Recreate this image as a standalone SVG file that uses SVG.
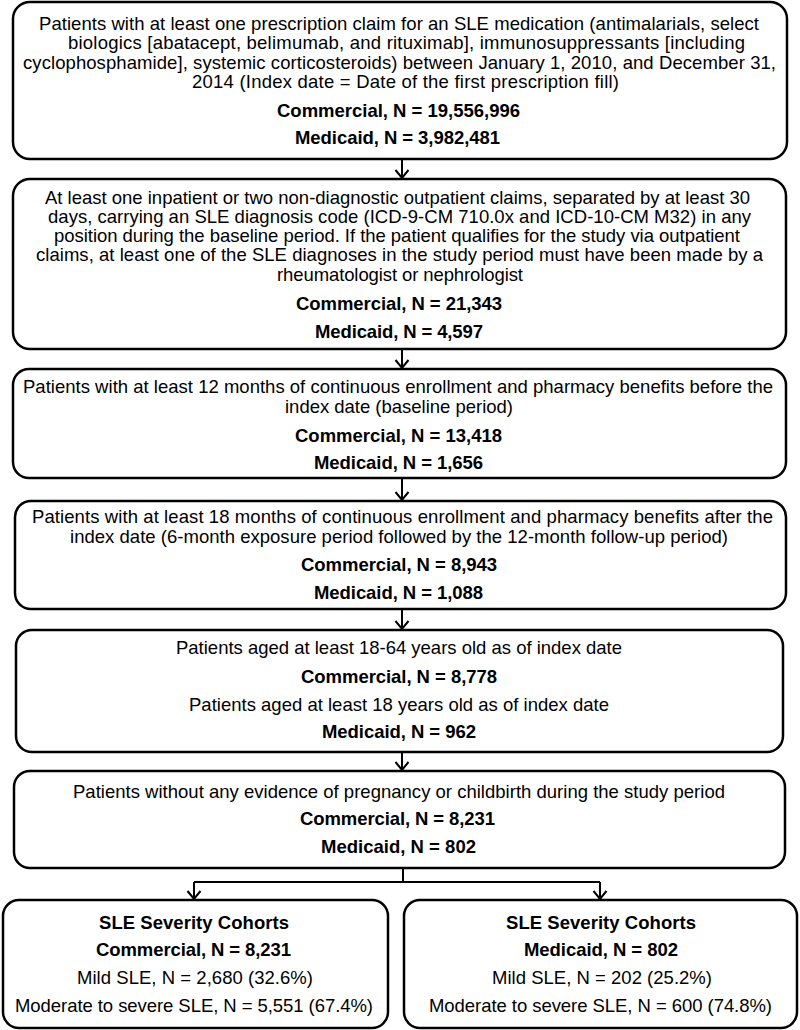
<svg xmlns="http://www.w3.org/2000/svg" width="800" height="1030" viewBox="0 0 800 1030">
<style>
.box{fill:#fff;stroke:#000;stroke-width:2.5}
.t{font-family:"Liberation Sans",Arial,sans-serif;font-size:18.5px;fill:#000}
.b{font-weight:bold}
.c{fill:none;stroke:#000;stroke-width:2}
</style>
<defs>
<marker id="ah" viewBox="-10 -8 12 16" refX="0" refY="0" markerWidth="12" markerHeight="16" markerUnits="userSpaceOnUse" orient="auto">
<path d="M -8 -6.5 L 0 0 L -8 6.5" fill="none" stroke="#000" stroke-width="2"/>
</marker>
</defs>
<rect width="800" height="1030" fill="#fff"/>
<g id="connectors">
<path class="c" d="M402 159 V178" marker-end="url(#ah)"/>
<path class="c" d="M402 349 V368" marker-end="url(#ah)"/>
<path class="c" d="M402 478 V500" marker-end="url(#ah)"/>
<path class="c" d="M402 609 V629" marker-end="url(#ah)"/>
<path class="c" d="M402 752 V770" marker-end="url(#ah)"/>
<path class="c" d="M403 868 V882 M194 882 H600"/>
<path class="c" d="M194 882 V899" marker-end="url(#ah)"/>
<path class="c" d="M600 882 V899" marker-end="url(#ah)"/>
</g>
<g id="node1">
<rect class="box" x="13" y="2" width="774" height="157" rx="17"/>
<text class="t" x="39" y="29.5" textLength="720" lengthAdjust="spacing">Patients with at least one prescription claim for an SLE medication (antimalarials, select</text>
<text class="t" x="68" y="49" textLength="677" lengthAdjust="spacing">biologics [abatacept, belimumab, and rituximab], immunosuppressants [including</text>
<text class="t" x="23" y="68.5" textLength="753" lengthAdjust="spacing">cyclophosphamide], systemic corticosteroids) between January 1, 2010, and December 31,</text>
<text class="t" x="192" y="88" textLength="427" lengthAdjust="spacing">2014 (Index date = Date of the first prescription fill)</text>
<text class="t b" x="277" y="116.5" textLength="243" lengthAdjust="spacing">Commercial, N = 19,556,996</text>
<text class="t b" x="295" y="143.5" textLength="205" lengthAdjust="spacing">Medicaid, N = 3,982,481</text>
</g>
<g id="node2">
<rect class="box" x="13" y="179" width="773" height="170" rx="17"/>
<text class="t" x="45" y="203.5" textLength="705" lengthAdjust="spacing">At least one inpatient or two non-diagnostic outpatient claims, separated by at least 30</text>
<text class="t" x="48" y="222.5" textLength="703" lengthAdjust="spacing">days, carrying an SLE diagnosis code (ICD-9-CM 710.0x and ICD-10-CM M32) in any</text>
<text class="t" x="54" y="242" textLength="686" lengthAdjust="spacing">position during the baseline period. If the patient qualifies for the study via outpatient</text>
<text class="t" x="36" y="261" textLength="727" lengthAdjust="spacing">claims, at least one of the SLE diagnoses in the study period must have been made by a</text>
<text class="t" x="277" y="281" textLength="246" lengthAdjust="spacing">rheumatologist or nephrologist</text>
<text class="t b" x="296" y="310" textLength="206" lengthAdjust="spacing">Commercial, N = 21,343</text>
<text class="t b" x="315" y="338" textLength="168" lengthAdjust="spacing">Medicaid, N = 4,597</text>
</g>
<g id="node3">
<rect class="box" x="13" y="369" width="773" height="109" rx="16"/>
<text class="t" x="23" y="393" textLength="750" lengthAdjust="spacing">Patients with at least 12 months of continuous enrollment and pharmacy benefits before the</text>
<text class="t" x="285" y="412.5" textLength="228" lengthAdjust="spacing">index date (baseline period)</text>
<text class="t b" x="295" y="441.5" textLength="207" lengthAdjust="spacing">Commercial, N = 13,418</text>
<text class="t b" x="314" y="468.5" textLength="169" lengthAdjust="spacing">Medicaid, N = 1,656</text>
</g>
<g id="node4">
<rect class="box" x="15" y="501" width="771" height="108" rx="16"/>
<text class="t" x="32" y="523" textLength="741" lengthAdjust="spacing">Patients with at least 18 months of continuous enrollment and pharmacy benefits after the</text>
<text class="t" x="70" y="542.5" textLength="658" lengthAdjust="spacing">index date (6-month exposure period followed by the 12-month follow-up period)</text>
<text class="t b" x="301" y="571" textLength="196" lengthAdjust="spacing">Commercial, N = 8,943</text>
<text class="t b" x="314" y="598.5" textLength="169" lengthAdjust="spacing">Medicaid, N = 1,088</text>
</g>
<g id="node5">
<rect class="box" x="16" y="630" width="767" height="122" rx="16"/>
<text class="t" x="176" y="654" textLength="446" lengthAdjust="spacing">Patients aged at least 18-64 years old as of index date</text>
<text class="t b" x="301" y="682.5" textLength="196" lengthAdjust="spacing">Commercial, N = 8,778</text>
<text class="t" x="189" y="710.5" textLength="420" lengthAdjust="spacing">Patients aged at least 18 years old as of index date</text>
<text class="t b" x="322" y="737.5" textLength="154" lengthAdjust="spacing">Medicaid, N = 962</text>
</g>
<g id="node6">
<rect class="box" x="14" y="771" width="771" height="97" rx="16"/>
<text class="t" x="73" y="797.5" textLength="652" lengthAdjust="spacing">Patients without any evidence of pregnancy or childbirth during the study period</text>
<text class="t b" x="300" y="824.5" textLength="195" lengthAdjust="spacing">Commercial, N = 8,231</text>
<text class="t b" x="321" y="852.5" textLength="155" lengthAdjust="spacing">Medicaid, N = 802</text>
</g>
<g id="node7">
<rect class="box" x="3" y="900" width="385" height="128" rx="16"/>
<text class="t b" x="99" y="928.5" textLength="190" lengthAdjust="spacing">SLE Severity Cohorts</text>
<text class="t b" x="96" y="955.5" textLength="195" lengthAdjust="spacing">Commercial, N = 8,231</text>
<text class="t" x="77" y="983.5" textLength="236" lengthAdjust="spacing">Mild SLE, N = 2,680 (32.6%)</text>
<text class="t" x="15" y="1011.5" textLength="358" lengthAdjust="spacing">Moderate to severe SLE, N = 5,551 (67.4%)</text>
</g>
<g id="node8">
<rect class="box" x="404" y="900" width="393" height="128" rx="16"/>
<text class="t b" x="506" y="928.5" textLength="190" lengthAdjust="spacing">SLE Severity Cohorts</text>
<text class="t b" x="524" y="955.5" textLength="154" lengthAdjust="spacing">Medicaid, N = 802</text>
<text class="t" x="492" y="983.5" textLength="220" lengthAdjust="spacing">Mild SLE, N = 202 (25.2%)</text>
<text class="t" x="429" y="1011.5" textLength="343" lengthAdjust="spacing">Moderate to severe SLE, N = 600 (74.8%)</text>
</g>
</svg>
